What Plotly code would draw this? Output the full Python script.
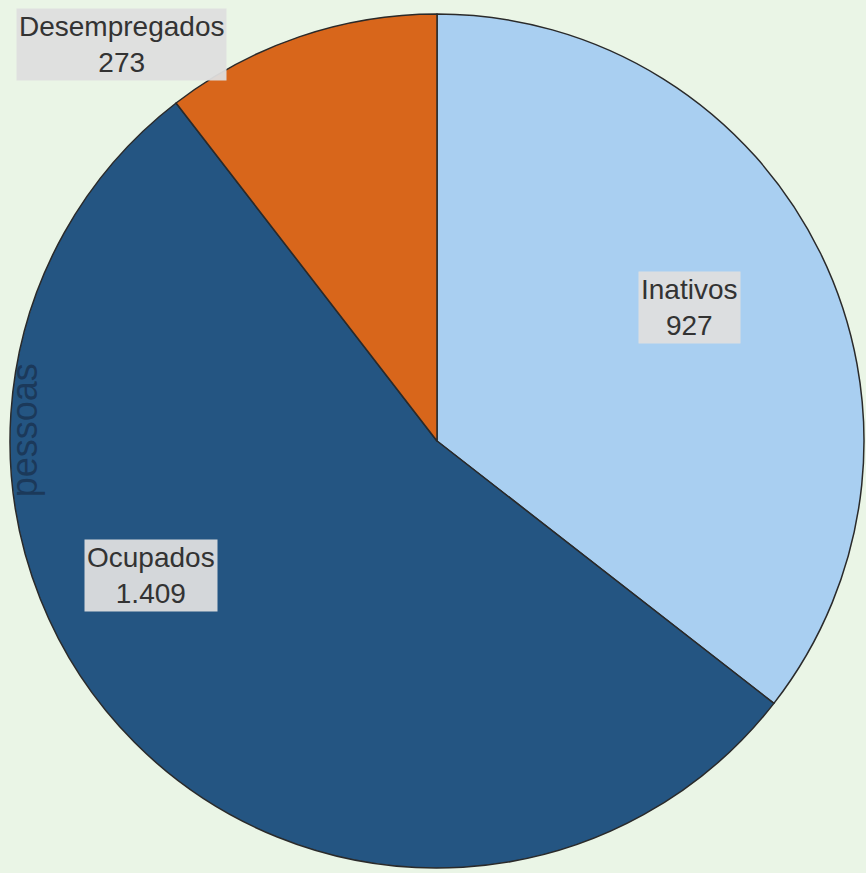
import plotly.graph_objects as go

# Population by labour-market status (thousands of people)
labels = ["Inativos", "Ocupados", "Desempregados"]
values = [927, 1409, 273]
value_text = ["927", "1.409", "273"]
colors = ["#a9cff1", "#245582", "#d8661b"]

fig = go.Figure()

fig.add_trace(go.Pie(
    labels=labels,
    values=values,
    sort=False,
    direction="clockwise",
    rotation=0,
    textinfo="none",
    hoverinfo="label+value",
    marker=dict(colors=colors, line=dict(color="#2a2a2a", width=1.5)),
    showlegend=False,
    domain=dict(x=[0, 1], y=[0, 1]),
))

# Label boxes (paper coords)
label_pos = [(0.796, 0.656), (0.165, 0.342), (0.130, 0.964)]
for name, txt, (x, y) in zip(labels, value_text, label_pos):
    fig.add_annotation(
        x=x, y=y, xref="paper", yref="paper",
        xanchor="center", yanchor="middle",
        text=f"{name}<br>{txt}",
        showarrow=False,
        font=dict(family="Liberation Sans, Arial", size=28, color="#333333"),
        bgcolor="rgba(222,222,222,0.95)",
        borderpad=2,
        align="center",
    )

fig.add_annotation(
    x=0.0, y=0.512, xref="paper", yref="paper",
    xshift=-8,
    text="pessoas",
    textangle=-90,
    showarrow=False,
    xanchor="left",
    font=dict(family="Liberation Sans, Arial", size=36, color="rgba(25,50,80,0.8)"),
)

fig.update_layout(
    width=866,
    height=873,
    margin=dict(l=10, r=2, t=14, b=5),
    paper_bgcolor="#eaf5e6",
    plot_bgcolor="#eaf5e6",
)

fig.write_html("out.html", config={"displayModeBar": False},
               post_script="document.body.style.margin='0';")
